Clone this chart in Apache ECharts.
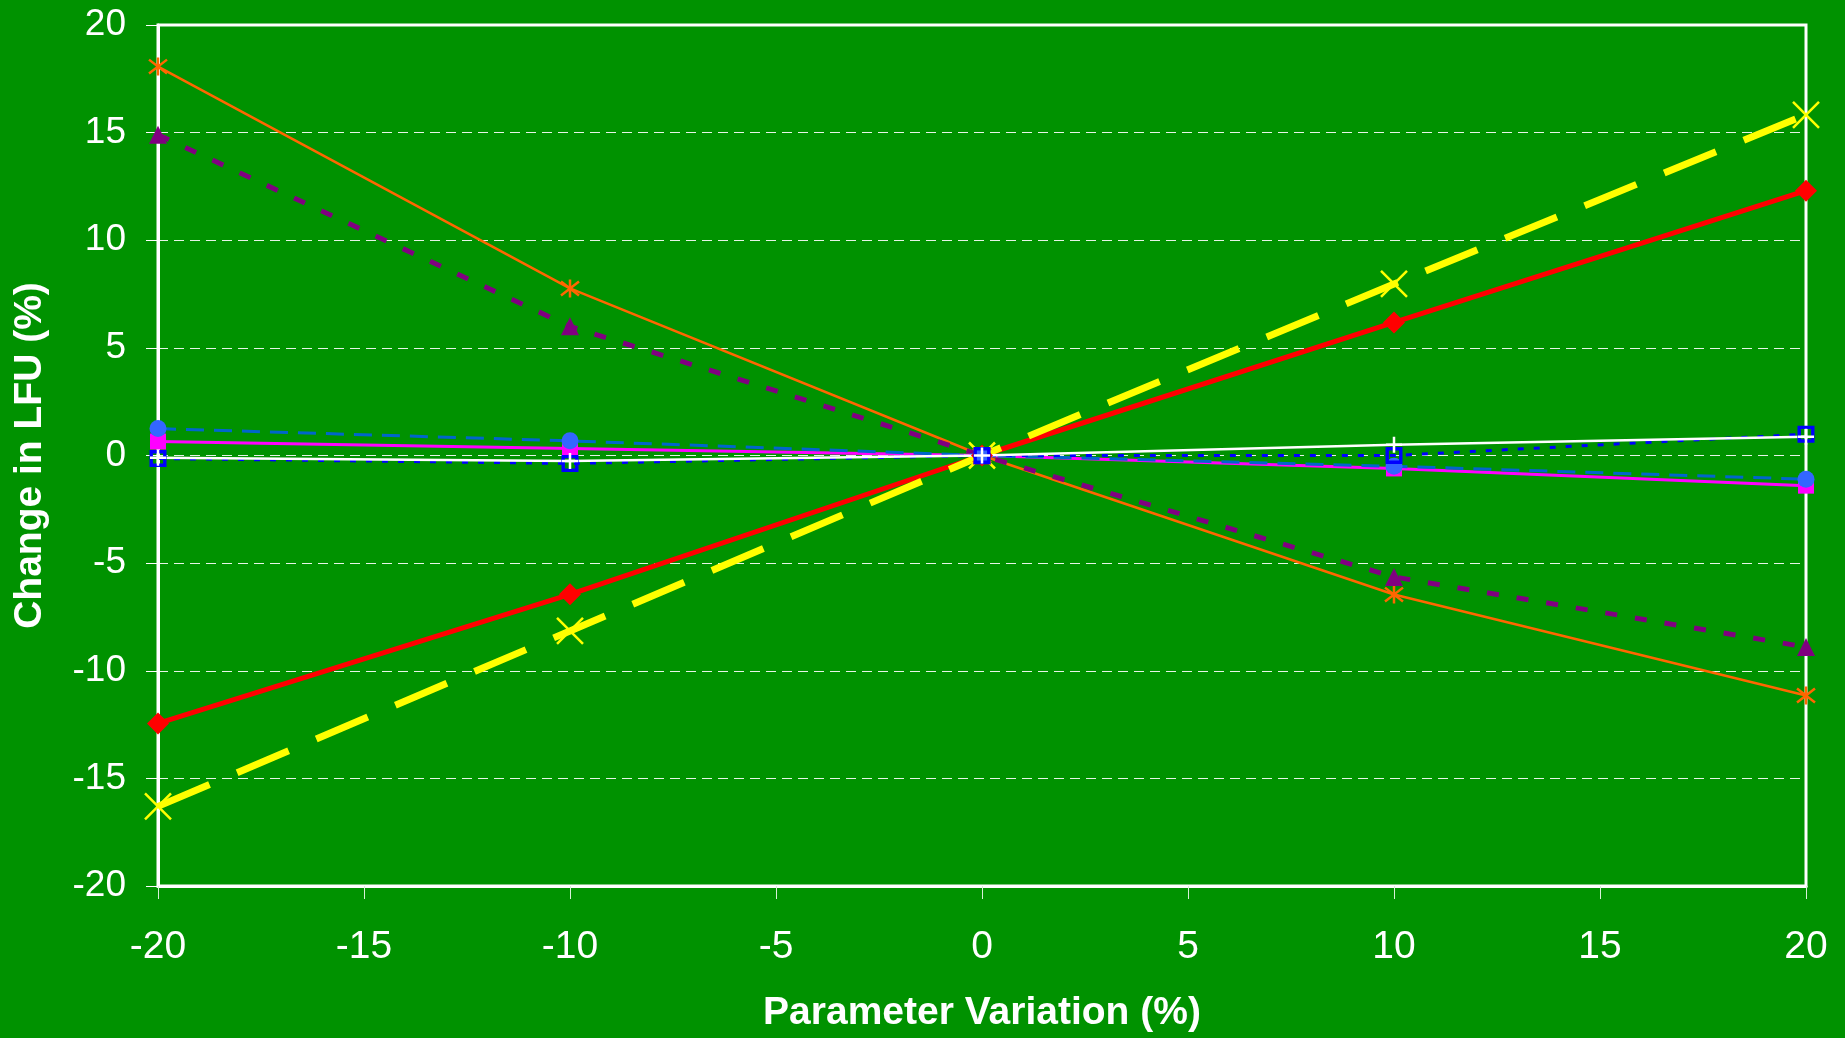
<!DOCTYPE html>
<html>
<head>
<meta charset="utf-8">
<title>Change in LFU</title>
<script src="https://cdn.jsdelivr.net/npm/echarts@6/dist/echarts.min.js"></script>
<style>
  html, body { margin: 0; padding: 0; background: #009200; }
  #chart { width: 1845px; height: 1038px; }
</style>
</head>
<body>
<div id="chart"></div>
<script>
// parameter variation (%) on the x axis
const xValues = [-20, -10, 0, 10, 20];
const xTicks = [-20, -15, -10, -5, 0, 5, 10, 15, 20];
const yTicks = [-20, -15, -10, -5, 0, 5, 10, 15, 20];

// change in LFU (%) per parameter
const redValues = [-12.45, -6.45, 0, 6.18, 12.3];
const yellowValues = [-16.3, -8.15, 0, 7.97, 15.83];
const orangeValues = [18.07, 7.76, 0, -6.46, -11.15];
const purpleValues = [14.9, 6.0, 0, -5.64, -8.9];
const magentaValues = [0.65, 0.32, 0, -0.6, -1.4];
const circleValues = [1.25, 0.68, 0, -0.5, -1.1];
const squareValues = [-0.14, -0.37, 0, 0, 0.99];
const plusValues = [-0.1, -0.25, 0, 0.5, 0.87];

const GREEN = '#009200';

// marcadores que echarts no trae
const X_PATH = 'path://M0 0L10 10M10 0L0 10';
const STAR_PATH = 'path://M0 0L10 10M10 0L0 10M5 -1.5V11.5';
const PLUS_PATH = 'path://M5 0V10M0 5H10';
const RING_PATH = 'path://M0 0H10V10H0Z M2 2V8H8V2Z';

function pairs(values) {
  return xValues.map((x, i) => [x, values[i]]);
}

function initChart() {
  const chart = echarts.init(document.getElementById('chart'));

  const options = {
    backgroundColor: GREEN,
    animation: false,
    grid: {
      left: 158,
      top: 25,
      right: 39,
      bottom: 149,
      show: true,
      borderColor: '#ffffff',
      borderWidth: 3,
      backgroundColor: 'transparent'
    },
    xAxis: {
      type: 'value',
      min: xTicks[0],
      max: xTicks[xTicks.length - 1],
      interval: 5,
      name: 'Parameter Variation (%)',
      nameLocation: 'middle',
      nameGap: 108,
      nameTextStyle: {
        color: '#ffffff',
        fontFamily: 'Liberation Sans, Arial, sans-serif',
        fontWeight: 'bold',
        fontSize: 39
      },
      axisLine: { onZero: false, lineStyle: { color: '#ffffff', width: 3 } },
      axisTick: { inside: false, length: 13, lineStyle: { color: '#d8f0d8', width: 1 } },
      axisLabel: {
        color: '#ffffff',
        fontFamily: 'Liberation Sans, Arial, sans-serif',
        fontSize: 39,
        margin: 42
      },
      splitLine: { show: false }
    },
    yAxis: {
      type: 'value',
      min: yTicks[0],
      max: yTicks[yTicks.length - 1],
      interval: 5,
      name: 'Change in LFU (%)',
      nameLocation: 'middle',
      nameGap: 108,
      nameTextStyle: {
        color: '#ffffff',
        fontFamily: 'Liberation Sans, Arial, sans-serif',
        fontWeight: 'bold',
        fontSize: 39
      },
      axisLine: { show: true, onZero: false, lineStyle: { color: '#ffffff', width: 3 } },
      axisTick: { show: true, inside: false, length: 12, lineStyle: { color: '#ffffff', width: 1 } },
      axisLabel: {
        color: '#ffffff',
        fontFamily: 'Liberation Sans, Arial, sans-serif',
        fontSize: 37,
        margin: 32
      },
      splitLine: {
        show: true,
        lineStyle: { color: 'rgba(255,255,255,0.9)', width: 1, type: [10, 6] }
      }
    },
    series: [
      {
        name: 'red',
        type: 'line',
        data: pairs(redValues),
        symbol: 'diamond',
        symbolSize: 22,
        itemStyle: { color: '#ff0000' },
        lineStyle: { color: '#ff0000', width: 5 }
      },
      {
        name: 'yellow',
        type: 'line',
        data: pairs(yellowValues),
        symbol: X_PATH,
        symbolSize: 26,
        itemStyle: { color: '#ffff00', borderColor: '#ffff00', borderWidth: 2.5 },
        lineStyle: { color: '#ffff00', width: 7, type: [56, 30] }
      },
      {
        name: 'orange',
        type: 'line',
        data: pairs(orangeValues),
        symbol: STAR_PATH,
        symbolSize: 18,
        itemStyle: { color: '#ff6600', borderColor: '#ff6600', borderWidth: 2.5 },
        lineStyle: { color: '#ff6600', width: 2.5 }
      },
      {
        name: 'purple',
        type: 'line',
        data: pairs(purpleValues),
        symbol: 'triangle',
        symbolSize: 18,
        itemStyle: { color: '#800080' },
        lineStyle: { color: '#800080', width: 5, type: [12, 18] }
      },
      {
        name: 'magenta',
        type: 'line',
        data: pairs(magentaValues),
        symbol: 'rect',
        symbolSize: 16,
        itemStyle: { color: '#ff00ff' },
        lineStyle: { color: '#ff00ff', width: 3 }
      },
      {
        name: 'circle',
        type: 'line',
        data: pairs(circleValues),
        symbol: 'circle',
        symbolSize: 17,
        itemStyle: { color: '#3366ff' },
        lineStyle: { color: '#0066cc', width: 3, type: [18, 10] }
      },
      {
        name: 'square',
        type: 'line',
        data: pairs(squareValues),
        symbol: RING_PATH,
        symbolSize: 17,
        itemStyle: { color: '#0000ff' },
        lineStyle: { color: '#0000ff', width: 3, type: [6, 10] }
      },
      {
        name: 'plus',
        type: 'line',
        data: pairs(plusValues),
        symbol: PLUS_PATH,
        symbolSize: 16,
        itemStyle: { color: '#ffffff', borderColor: '#ffffff', borderWidth: 2.5 },
        lineStyle: { color: '#ffffff', width: 2.5 }
      }
    ]
  };

  chart.setOption(options);
}

document.addEventListener('DOMContentLoaded', initChart);
</script>
</body>
</html>
